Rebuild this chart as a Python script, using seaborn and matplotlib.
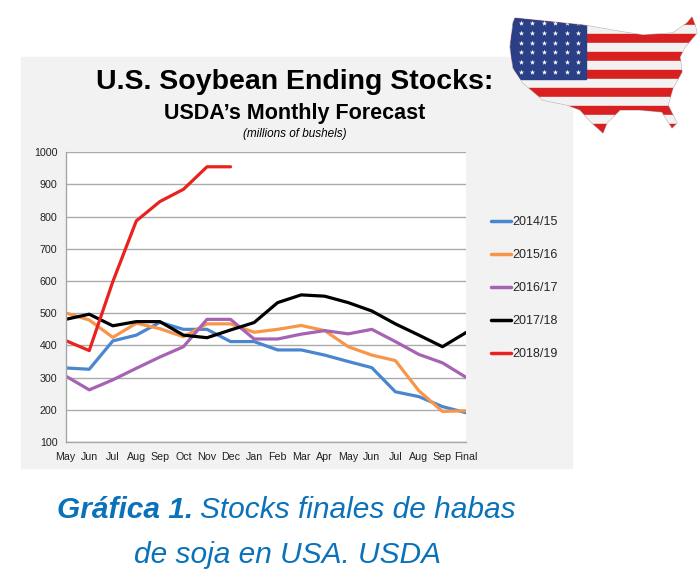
import numpy as np
import pandas as pd
import matplotlib
matplotlib.use("Agg")
import matplotlib.pyplot as plt
from matplotlib.patches import Rectangle, Polygon
import seaborn as sns

# data (millions of bushels)
months = ["May", "Jun", "Jul", "Aug", "Sep", "Oct", "Nov", "Dec", "Jan", "Feb",
          "Mar", "Apr", "May", "Jun", "Jul", "Aug", "Sep", "Final"]
s2014 = [330, 326, 414, 432, 472, 450, 450, 412, 412, 386, 386, 370, 350, 331, 256, 241, 210, 191]
s2015 = [501, 479, 425, 469, 452, 427, 467, 467, 441, 450, 462, 446, 396, 370, 353, 259, 195, 197]
s2016 = [305, 262, 293, 329, 364, 396, 481, 481, 420, 420, 435, 446, 436, 450, 412, 372, 346, 301]
s2017 = [481, 497, 461, 474, 474, 432, 424, 448, 471, 533, 557, 553, 533, 507, 467, 432, 396, 440]
s2018 = [415, 384, 598, 787, 847, 885, 955, 955]

seasons = ["2014/15", "2015/16", "2016/17", "2017/18", "2018/19"]
colors = ["#4a86cf", "#f7964a", "#a663b3", "#000000", "#e8231f"]

rows = []
for name, vals in zip(seasons, [s2014, s2015, s2016, s2017, s2018]):
    for i, v in enumerate(vals):
        rows.append({"pos": i, "stocks": v, "season": name})
df = pd.DataFrame(rows)

sns.set_style("white")
plt.rcParams["font.family"] = ["Liberation Sans", "DejaVu Sans"]

fig = plt.figure(figsize=(7.0, 5.78), dpi=100)

# grey panel behind the chart
fig.patches.append(Rectangle((21 / 700, 1 - 468 / 578), 551 / 700, 411 / 578,
                             transform=fig.transFigure, color="#f2f2f2", zorder=-10))

ax = fig.add_axes([65.7 / 700, 1 - 442 / 578, 400.3 / 700, 289.7 / 578])
ax.set_facecolor("white")

sns.lineplot(data=df, x="pos", y="stocks", hue="season", hue_order=seasons,
             palette=dict(zip(seasons, colors)), sort=False, ax=ax, linewidth=2.3)
ax.lines[-1].set_linewidth(3.0)

ax.set_xlim(0, 17)
ax.set_ylim(100, 1000)
ax.set_yticks(range(100, 1001, 100))
ax.set_xticks(range(len(months)))
ax.set_xticklabels(months)
ax.set_xlabel("")
ax.set_ylabel("")
ax.yaxis.grid(True, color="#ababab", linewidth=1)
ax.set_axisbelow(True)
for side in ("top", "right"):
    ax.spines[side].set_visible(False)
for side in ("left", "bottom"):
    ax.spines[side].set_color("#a6a6a6")
    ax.spines[side].set_linewidth(1)
ax.tick_params(axis="both", direction="out", length=3, color="#a6a6a6",
               labelsize=7.7, labelcolor="#222222", pad=3)
ax.tick_params(axis="x", pad=4)

leg = ax.legend(loc="upper left", bbox_to_anchor=(485 / 700, 1 - 210 / 578),
                bbox_transform=fig.transFigure, frameon=False, fontsize=9,
                handlelength=1.6, handletextpad=0.05, labelspacing=1.68,
                borderpad=0)
for h in leg.get_lines():
    h.set_linewidth(2.5)

# titles
fig.text(295 / 700, 1 - 82 / 578, "U.S. Soybean Ending Stocks:", ha="center", va="center",
         fontsize=20.5, fontweight="bold", color="black")
fig.text(295 / 700, 1 - 114 / 578, "USDA\u2019s Monthly Forecast", ha="center", va="center",
         fontsize=15.5, fontweight="bold", color="black")
fig.text(295 / 700, 1 - 134 / 578, "(millions of bushels)", ha="center", va="center",
         fontsize=8.5, style="italic", color="black")

# caption below
cap_color = "#0b72b9"
t1 = fig.text(57 / 700, 1 - 510 / 578, "Gráfica 1.", ha="left", va="center",
              fontsize=21.5, fontweight="bold", style="italic", color=cap_color)
fig.canvas.draw()
bb = t1.get_window_extent().transformed(fig.transFigure.inverted())
fig.text(bb.x1 + 7 / 700, 1 - 510 / 578, "Stocks finales de habas", ha="left", va="center",
         fontsize=21.5, style="italic", color=cap_color)
fig.text(287 / 700, 1 - 555 / 578, "de soja en USA. USDA", ha="center", va="center",
         fontsize=21.5, style="italic", color=cap_color)

# rough flag-map decoration at top right (outline in picture pixels)
fax = fig.add_axes([505 / 700, 1 - 135 / 578, 195 / 700, 120 / 578])
fax.set_xlim(505, 700)
fax.set_ylim(135, 15)
fax.axis("off")
outline = [(515, 18), (583, 25), (623, 32), (643, 35), (673, 33), (687, 23), (692, 17),
           (695, 25), (697, 33), (685, 47), (680, 57), (682, 72), (673, 88), (668, 105),
           (677, 123), (672, 128), (662, 112), (640, 110), (620, 110), (607, 123),
           (603, 133), (592, 123), (580, 110), (567, 105), (543, 100), (523, 83),
           (513, 68), (510, 47), (513, 23)]
clip = Polygon(outline, closed=True, facecolor="none", edgecolor="#b5b5b5", linewidth=0.8)
fax.add_patch(clip)
stripe_h = 117 / 13
for k in range(13):
    r = Rectangle((505, 16 + k * stripe_h), 195, stripe_h,
                  color="#d7201f" if k % 2 == 0 else "#f2f2f2")
    fax.add_patch(r)
    r.set_clip_path(clip)
canton = Rectangle((505, 16), 81, 7 * stripe_h, color="#2b3f86")
fax.add_patch(canton)
canton.set_clip_path(clip)
sx, sy = np.meshgrid(np.linspace(521, 578, 6), np.linspace(23, 72, 6))
stars = fax.scatter(sx.ravel(), sy.ravel(), marker="*", s=16, color="white", linewidths=0)
stars.set_clip_path(clip)

fig.savefig("out.png", dpi=100)
